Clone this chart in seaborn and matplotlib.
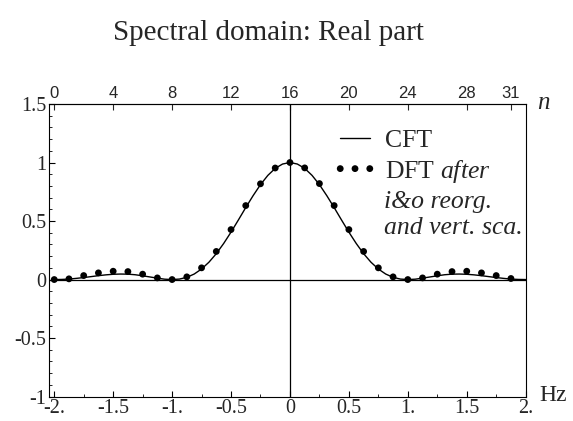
"""Spectral domain real part: CFT curve vs. reorganised DFT samples"""
import numpy as np
import pandas as pd
import seaborn as sns
import matplotlib.pyplot as plt
from matplotlib.ticker import MultipleLocator

# CFT curve (Hz, value)
cft_hz = [-2.0, -1.9375, -1.875, -1.8125, -1.75, -1.6875, -1.625, -1.5625, -1.5,
          -1.4375, -1.375, -1.3125, -1.25, -1.1875, -1.125, -1.0625, -1.0,
          -0.9375, -0.875, -0.8125, -0.75, -0.6875, -0.625, -0.5625, -0.5,
          -0.4375, -0.375, -0.3125, -0.25, -0.1875, -0.125, -0.0625, 0.0,
          0.0625, 0.125, 0.1875, 0.25, 0.3125, 0.375, 0.4375, 0.5,
          0.5625, 0.625, 0.6875, 0.75, 0.8125, 0.875, 0.9375, 1.0,
          1.0625, 1.125, 1.1875, 1.25, 1.3125, 1.375, 1.4375, 1.5,
          1.5625, 1.625, 1.6875, 1.75, 1.8125, 1.875, 1.9375, 2.0]
cft_val = [0.0, 0.001, 0.004, 0.010, 0.017, 0.025, 0.033, 0.040, 0.045,
           0.047, 0.046, 0.041, 0.032, 0.022, 0.012, 0.003, 0.0,
           0.004, 0.019, 0.047, 0.090, 0.148, 0.221, 0.308, 0.405,
           0.509, 0.615, 0.717, 0.811, 0.890, 0.950, 0.987, 1.0,
           0.987, 0.950, 0.890, 0.811, 0.717, 0.615, 0.509, 0.405,
           0.308, 0.221, 0.148, 0.090, 0.047, 0.019, 0.004, 0.0,
           0.003, 0.012, 0.022, 0.032, 0.041, 0.046, 0.047, 0.045,
           0.040, 0.033, 0.025, 0.017, 0.010, 0.004, 0.001, 0.0]

# DFT samples, index n = 0..31
dft_n = list(range(32))
dft_val = [0.0, 0.006, 0.034, 0.057, 0.071, 0.068, 0.046, 0.014,
           0.0, 0.023, 0.100, 0.240, 0.427, 0.632, 0.818, 0.953,
           1.0, 0.954, 0.820, 0.632, 0.427, 0.240, 0.100, 0.023,
           0.0, 0.014, 0.046, 0.068, 0.071, 0.057, 0.034, 0.009]

n_ticks = [0, 4, 8, 12, 16, 20, 24, 28, 31]
hz_ticks = [-2, -1.5, -1, -0.5, 0, 0.5, 1, 1.5, 2]
hz_labels = ['-2.', '-1.5', '-1.', '-0.5', '0', '0.5', '1.', '1.5', '2.']
y_ticks = [-1, -0.5, 0, 0.5, 1, 1.5]
y_labels = ['-1', '-0.5', '0', '0.5', '1', '1.5']

sns.set_theme(style='white')
plt.rcParams['font.family'] = ['Liberation Serif', 'DejaVu Serif']
plt.rcParams['mathtext.fontset'] = 'custom'
plt.rcParams['mathtext.it'] = 'Liberation Serif:italic'
plt.rcParams['mathtext.rm'] = 'Liberation Serif'


def n_to_hz(n):
    return (np.asarray(n) - 16) / 8.0


def hz_to_n(f):
    return np.asarray(f) * 8.0 + 16


cft = pd.DataFrame({'Hz': cft_hz, 'value': cft_val})
dft = pd.DataFrame({'Hz': n_to_hz(dft_n), 'value': dft_val})

fig = plt.figure(figsize=(5.73, 4.21), dpi=100)
ax = fig.add_axes([0.086, 0.058, 0.8314, 0.695])

ax.axhline(0, color='black', lw=0.9, zorder=1)
ax.axvline(0, color='black', lw=0.9, zorder=1)
sns.lineplot(data=cft, x='Hz', y='value', color='black', lw=1.0, ax=ax,
             label='CFT', zorder=3)
sns.scatterplot(data=dft, x='Hz', y='value', color='black', s=24,
                edgecolor='none', ax=ax, label='DFT $\\mathit{after}$', zorder=4)

ax.set_xlim(-2.042, 2.0)
ax.set_ylim(-1, 1.5)
ax.set_xlabel('')
ax.set_ylabel('')
for side in ax.spines.values():
    side.set_color('black')
    side.set_linewidth(0.8)

ax.set_xticks(hz_ticks)
ax.set_xticklabels(hz_labels)
ax.set_yticks(y_ticks)
ax.set_yticklabels(y_labels)
ax.xaxis.set_minor_locator(MultipleLocator(0.25))
ax.yaxis.set_minor_locator(MultipleLocator(0.1))
ax.tick_params(which='both', direction='in', color='black', bottom=True, left=True,
               top=False, right=False, labelsize=14.5, pad=2)
ax.tick_params(which='major', length=4, width=0.8)
ax.tick_params(which='minor', length=2.5, width=0.6)

top = ax.secondary_xaxis('top', functions=(hz_to_n, n_to_hz))
top.set_xticks(n_ticks)
top.set_xticklabels([str(n) for n in n_ticks], family='Liberation Sans')
top.tick_params(direction='in', length=4, width=0.8, labelsize=12, pad=2)
top.xaxis.set_minor_locator(plt.NullLocator())
top.spines['top'].set_linewidth(0.8)

leg = ax.legend(loc='upper left', bbox_to_anchor=(0.573, 0.948), frameon=False,
                fontsize=18.5, handlelength=1.75, handletextpad=0.3,
                labelspacing=0.2, borderaxespad=0, numpoints=3,
                scatterpoints=3, scatteryoffsets=[0.5], markerscale=1.0)
ax.text(0.703, 0.701, 'i&o reorg.\nand vert. sca.', transform=ax.transAxes,
        fontsize=18.5, style='italic', va='top', ha='left', linespacing=1.2)

fig.text(0.468, 0.922, 'Spectral domain: Real part', ha='center', va='center',
         fontsize=21)
fig.text(0.948, 0.755, 'n', style='italic', fontsize=18, ha='center', va='center')
fig.text(0.965, 0.06, 'Hz', fontsize=17, ha='center', va='center')

plt.savefig('out.png', dpi=100)
plt.close()
